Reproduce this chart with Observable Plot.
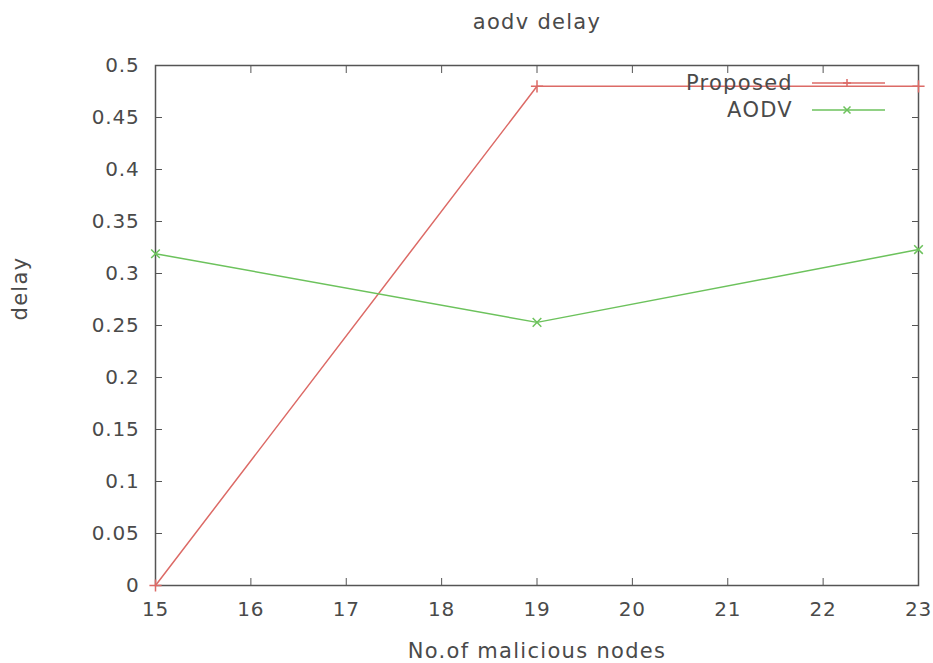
<!DOCTYPE html>
<html><head><meta charset="utf-8">
<script src="https://cdn.jsdelivr.net/npm/d3@7"></script>
<script src="https://cdn.jsdelivr.net/npm/@observablehq/plot@0.6"></script>
<style>body{margin:0;background:#fff;} svg{display:block;} svg text{letter-spacing:1.3px;} svg g[aria-label="y-axis tick label"] text, svg g[aria-label="x-axis tick label"] text{letter-spacing:0.8px;}</style>
</head><body><div id="chart"></div>
<script>
const nodes = [15, 19, 23];
const proposed = [0, 0.48, 0.48];
const aodv = [0.319, 0.253, 0.323];
const seriesNames = ["Proposed", "AODV"];
const colors = ["#dc6a66", "#6cc25c"];
const xTicks = [15,16,17,18,19,20,21,22,23];
const yTicks = [0,0.05,0.1,0.15,0.2,0.25,0.3,0.35,0.4,0.45,0.5];

const data = [
  ...nodes.map((n,i)=>({x:n, y:proposed[i], s:seriesNames[0]})),
  ...nodes.map((n,i)=>({x:n, y:aodv[i], s:seriesNames[1]}))
];
const textColor = "#4a4a4a";
const font = "DejaVu Sans, sans-serif";
const fmt = d => String(d);

const chart = Plot.plot({
  width: 933, height: 663,
  marginLeft: 155, marginRight: 15, marginTop: 65, marginBottom: 78,
  style: {fontFamily: font, fontSize: "20px", color: textColor, background: "#fff"},
  x: {domain: [15, 23], ticks: xTicks},
  y: {domain: [0, 0.5], ticks: yTicks},
  color: {domain: seriesNames, range: colors},
  marks: [
    Plot.frame({stroke: "#555", strokeWidth: 1.5}),
    Plot.axisY(yTicks, {anchor: "left", tickSize: 0, tickPadding: 16, tickFormat: fmt, label: null, fill: textColor, fontSize: 20}),
    Plot.axisY(yTicks, {anchor: "left", tickSize: -7, text: null, label: null, stroke: "#555"}),
    Plot.axisY(yTicks, {anchor: "right", tickSize: -7, text: null, label: null, stroke: "#555"}),
    Plot.axisX(xTicks, {anchor: "bottom", tickSize: 0, tickPadding: 16, tickFormat: fmt, label: null, fill: textColor, fontSize: 20}),
    Plot.axisX(xTicks, {anchor: "bottom", tickSize: -7, text: null, label: null, stroke: "#555"}),
    Plot.axisX(xTicks, {anchor: "top", tickSize: -7, text: null, label: null, stroke: "#555"}),
    Plot.line(data, {x: "x", y: "y", stroke: "s", z: "s", strokeWidth: 1.5}),
    Plot.dot(data.filter(d=>d.s===seriesNames[0]), {x: "x", y: "y", stroke: "s", symbol: "plus", r: 4, strokeWidth: 1.5}),
    Plot.dot(data.filter(d=>d.s===seriesNames[1]), {x: "x", y: "y", stroke: "s", symbol: "times", r: 4, strokeWidth: 1.5}),
    Plot.text(["aodv delay"], {frameAnchor: "top", dy: -51, fill: textColor, fontSize: 21}),
    Plot.text(["No.of malicious nodes"], {frameAnchor: "bottom", dy: 72, fill: textColor, fontSize: 21}),
    Plot.text(["delay"], {frameAnchor: "left", dx: -135, dy: -5, rotate: -90, fill: textColor, fontSize: 21})
  ]
});
document.getElementById("chart").appendChild(chart);

// legend (inside, top-right)
const svg = d3.select(chart);
const lg = svg.append("g").attr("font-family", font).attr("font-size", 21).attr("fill", textColor);
const symPaths = ["M-4,0H4M0,-4V4", "M-3.5,-3.5L3.5,3.5M-3.5,3.5L3.5,-3.5"];
seriesNames.forEach((name, i) => {
  const y = 83 + i * 27;
  lg.append("text").attr("x", 793).attr("y", y).attr("dy", "0.35em").attr("text-anchor", "end").text(name);
  lg.append("line").attr("x1", 812).attr("x2", 885).attr("y1", y).attr("y2", y).attr("stroke", colors[i]).attr("stroke-width", 1.5);
  lg.append("path").attr("d", symPaths[i]).attr("transform", `translate(847,${y})`).attr("stroke", colors[i]).attr("stroke-width", 1.5).attr("fill", "none");
});
</script>
</body></html>
